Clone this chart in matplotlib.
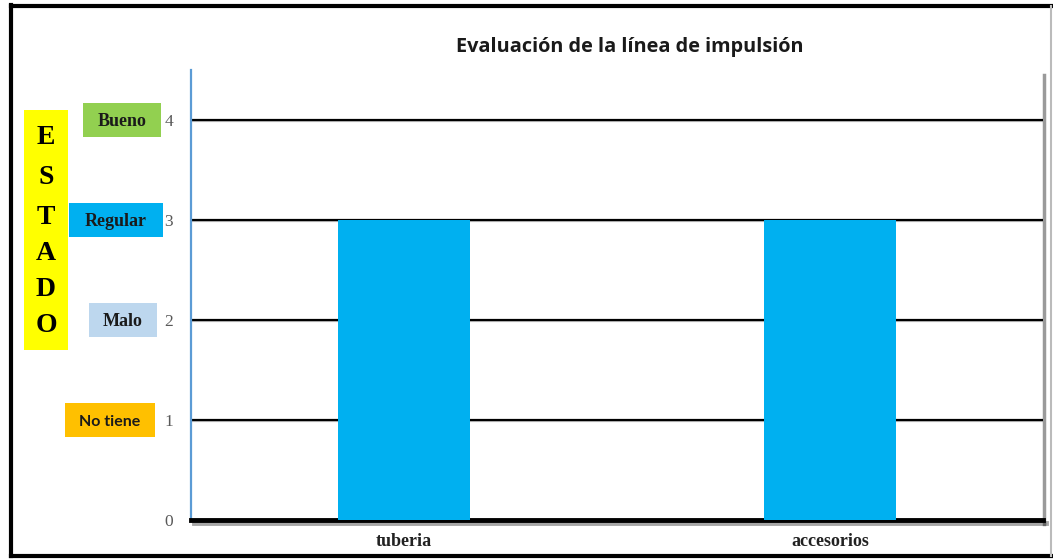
import matplotlib
matplotlib.use("Agg")
import matplotlib.pyplot as plt
from matplotlib.patches import Rectangle
from matplotlib.lines import Line2D
from matplotlib.transforms import blended_transform_factory, offset_copy
import matplotlib.patheffects as pe

# Data
categories = ["tuberia", "accesorios"]
values = [3, 3]
y_ticks = [0, 1, 2, 3, 4]
level_values = [4, 3, 2, 1]
level_names = ["Bueno", "Regular", "Malo", "No tiene"]
level_colors = ["#92D050", "#00B0F0", "#BDD7EE", "#FFC000"]
title = "Evaluación de la línea de impulsión"
side_title = "ESTADO"

W, H = 1053, 560
fig = plt.figure(figsize=(W / 100, H / 100), dpi=100)
fig.patch.set_facecolor("white")


def fx(px):
    return px / W


def fy(py):
    return 1 - py / H


# Plot area
ax = fig.add_axes([fx(191), fy(520), fx(1043) - fx(191), fy(70) - fy(520)])
ax.set_zorder(2)
ax.patch.set_alpha(0)
ax.set_xlim(-0.5, 1.5)
ax.set_ylim(0, 4.5)
ax.bar(range(len(categories)), values, width=0.31, color="#00B0F0", zorder=3)

for v in y_ticks[1:]:
    ax.axhline(v, color="black", lw=1.6, zorder=2,
               path_effects=[pe.SimpleLineShadow(offset=(0, -1), shadow_color="grey", alpha=0.5), pe.Normal()])

ax.set_yticks(y_ticks)
ax.set_yticklabels([str(t) for t in y_ticks], family="Liberation Serif",
                   fontsize=12.5, color="#595959")
ax.set_xticks(range(len(categories)))
ax.set_xticklabels(categories, family="Liberation Serif", fontweight="bold",
                   fontsize=13, color="#222222")
ax.tick_params(axis="y", length=0, pad=13)
ax.tick_params(axis="x", length=0, pad=9)

for s in ["top", "right"]:
    ax.spines[s].set_visible(False)
ax.spines["left"].set_color("#5B9BD5")
ax.spines["left"].set_linewidth(1.6)
ax.spines["bottom"].set_color("black")
ax.spines["bottom"].set_linewidth(3.5)
ax.spines["bottom"].set_path_effects(
    [pe.SimpleLineShadow(offset=(2, -2), shadow_color="black", alpha=0.35), pe.Normal()])

# Right edge of plot area
fig.add_artist(Line2D([fx(1044), fx(1044)], [fy(75), fy(524)], color="#9A9A9A", lw=2.5))

# Title
fig.text(fx(630), fy(47), title, ha="center", va="center", family="Open Sans",
         fontweight="bold", fontsize=14.3, color="#1a1a1a")

# Level boxes next to the y axis
trans = blended_transform_factory(fig.transFigure, ax.transData)
text_trans = offset_copy(trans, fig=fig, y=-2, units="dots")
box_x = [(83, 161), (69, 163), (89, 157), (65, 155)]
box_h = 0.34
for v, name, col, (x0, x1) in zip(level_values, level_names, level_colors, box_x):
    fig.add_artist(Rectangle((fx(x0), v - box_h / 2), fx(x1) - fx(x0), box_h,
                             transform=trans, facecolor=col, edgecolor="none",
                             clip_on=False))
    if name == "No tiene":
        fam, size = "Lato", 11.5
    else:
        fam, size = "Liberation Serif", 13
    fig.text(fx((x0 + x1) / 2), v, name, transform=text_trans, ha="center",
             va="center", family=fam, fontweight="bold", fontsize=size,
             color="#1a1a1a")

# Vertical "ESTADO" label
fig.add_artist(Rectangle((fx(24), fy(350)), fx(68) - fx(24), fy(110) - fy(350),
                         facecolor="#FFFF00", edgecolor="none"))
letter_y = [137, 177, 217, 253, 289, 325]
for ch, py in zip(side_title, letter_y):
    fig.text(fx(46), fy(py), ch, ha="center", va="center",
             family="Liberation Serif", fontweight="bold", fontsize=20,
             color="black")

# Outer frame
frame = dict(color="black", lw=3)
fig.add_artist(Line2D([fx(11), fx(11)], [fy(5), fy(556)], **frame))
fig.add_artist(Line2D([fx(11), fx(1051)], [fy(6), fy(6)], **frame))
fig.add_artist(Line2D([fx(11), fx(1051)], [fy(556), fy(556)], **frame))
fig.add_artist(Line2D([fx(1051), fx(1051)], [fy(6), fy(556)], color="#BBBBBB", lw=1.5))

fig.savefig("out.png", dpi=100, facecolor="white")
